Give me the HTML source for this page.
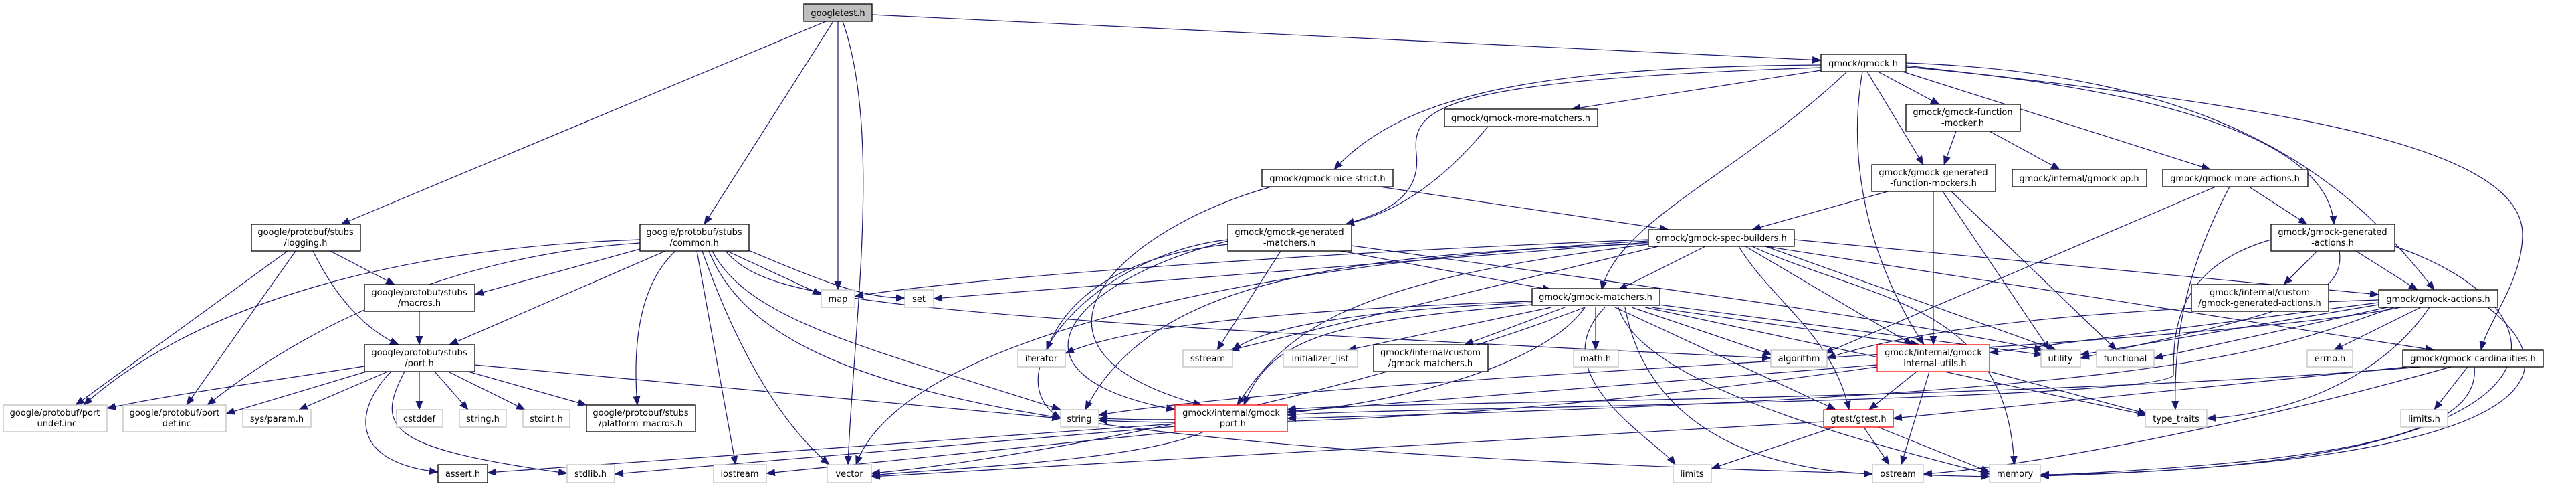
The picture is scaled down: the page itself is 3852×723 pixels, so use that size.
<!DOCTYPE html>
<html><head><meta charset="utf-8"><style>
html,body{margin:0;padding:0;background:#fff;}
svg{display:block;}
text{font-family:"DejaVu Sans","Liberation Sans",sans-serif;font-size:13px;fill:#000;text-anchor:middle;}
.e{fill:none;stroke:#191970;stroke-width:1.2;marker-end:url(#a);}
.b{fill:#fff;stroke:#000;stroke-width:1.3;}
.g{fill:#fff;stroke:#bfbfbf;stroke-width:1.3;}
.r{fill:#fff;stroke:#ff0000;stroke-width:1.3;}
</style></head><body>
<svg width="3852" height="723" viewBox="0 0 3852 723" xmlns="http://www.w3.org/2000/svg">
<defs><marker id="a" markerUnits="userSpaceOnUse" markerWidth="14" markerHeight="11" refX="13" refY="5.5" orient="auto"><path d="M0,0 L14,5.5 L0,11 z" fill="#191970"/></marker></defs>
<g>
<path class="e" d="M1235 32 L510 335"/>
<path class="e" d="M1246 32 L1053 335"/>
<path class="e" d="M1253 32 L1253 433"/>
<path class="e" d="M1260 32 C1320 200 1275 500 1268 694"/>
<path class="e" d="M1304 22 L2723 90"/>
<path class="e" d="M430 375 L113 605"/>
<path class="e" d="M442 375 L279 605"/>
<path class="e" d="M494 375 L590 425"/>
<path class="e" d="M468 375 Q520 480 596 515"/>
<path class="e" d="M957 358 C600 370 300 450 125 605"/>
<path class="e" d="M957 363 C700 380 480 470 310 605"/>
<path class="e" d="M957 372 L710 440"/>
<path class="e" d="M995 375 L672 515"/>
<path class="e" d="M1010 375 Q940 440 953 605"/>
<path class="e" d="M1042 375 L1100 694"/>
<path class="e" d="M1050 375 Q1130 600 1240 694"/>
<path class="e" d="M1087 375 L1228 440"/>
<path class="e" d="M1115 372 C1250 430 1300 445 1353 445"/>
<path class="e" d="M1065 375 C1120 480 1300 520 1586 612"/>
<path class="e" d="M1085 375 C1150 450 1300 470 2648 535"/>
<path class="e" d="M1060 375 C1150 600 1600 680 2975 712"/>
<path class="e" d="M627 465 L627 515"/>
<path class="e" d="M545 547 C400 570 250 590 160 610"/>
<path class="e" d="M548 555 L338 618"/>
<path class="e" d="M580 555 L447 612"/>
<path class="e" d="M627 555 L627 612"/>
<path class="e" d="M650 555 L700 612"/>
<path class="e" d="M670 555 L785 612"/>
<path class="e" d="M700 555 L877 605"/>
<path class="e" d="M585 555 C530 610 520 690 655 705"/>
<path class="e" d="M605 555 C560 640 580 670 848 707"/>
<path class="e" d="M710 545 L1586 625"/>
<path class="e" d="M2723 97 C2300 100 2100 140 1995 253"/>
<path class="e" d="M2723 101 C2150 120 2110 160 2118 230 S2060 320 2012 335"/>
<path class="e" d="M2723 105 L2350 163"/>
<path class="e" d="M2762 107 C2600 260 2420 330 2395 433"/>
<path class="e" d="M2808 107 L2900 156"/>
<path class="e" d="M2792 107 L2876 246"/>
<path class="e" d="M2785 107 C2760 250 2800 400 2877 515"/>
<path class="e" d="M2845 107 L3305 253"/>
<path class="e" d="M2850 100 C3200 130 3480 200 3490 335"/>
<path class="e" d="M2850 94 C3300 110 3500 250 3640 433"/>
<path class="e" d="M2850 98 C3300 150 3772 200 3772 350 C3772 420 3720 480 3710 523"/>
<path class="e" d="M2225 189 C2150 280 2080 320 2012 335"/>
<path class="e" d="M2063 279 L2495 343"/>
<path class="e" d="M1901 279 C1680 340 1480 520 1797 605"/>
<path class="e" d="M2005 375 L2320 433"/>
<path class="e" d="M1836 365 C1700 380 1600 430 1565 523"/>
<path class="e" d="M1915 375 L1820 523"/>
<path class="e" d="M1836 358 C1640 380 1480 560 1586 625"/>
<path class="e" d="M2021 367 C2400 420 2800 470 3055 523"/>
<path class="e" d="M1836 360 C1600 420 1480 560 1757 612"/>
<path class="e" d="M2550 368 L2420 433"/>
<path class="e" d="M2465 362 L1396 446"/>
<path class="e" d="M2465 358 C1900 380 1400 420 1278 443"/>
<path class="e" d="M2465 364 C2000 380 1720 420 1623 612"/>
<path class="e" d="M2465 360 C1900 390 1350 500 1280 694"/>
<path class="e" d="M2465 365 C2000 420 1920 500 1850 605"/>
<path class="e" d="M2480 368 L1840 523"/>
<path class="e" d="M2610 368 L2860 515"/>
<path class="e" d="M2600 368 C2650 450 2740 500 2765 612"/>
<path class="e" d="M2640 368 L3075 523"/>
<path class="e" d="M2620 368 C2800 450 3000 450 3012 694"/>
<path class="e" d="M2683 358 L3557 440"/>
<path class="e" d="M2640 368 L3640 523"/>
<path class="e" d="M2291 450 C2000 460 1700 480 1593 528"/>
<path class="e" d="M2291 452 C2100 460 1900 480 1843 523"/>
<path class="e" d="M2320 459 L2015 523"/>
<path class="e" d="M2340 459 L2190 515"/>
<path class="e" d="M2386 459 L2386 523"/>
<path class="e" d="M2370 459 C2300 560 2000 640 1643 625"/>
<path class="e" d="M2291 455 C2000 480 1900 500 1860 605"/>
<path class="e" d="M2400 459 C2300 560 2480 660 2505 694"/>
<path class="e" d="M2470 459 L2870 515"/>
<path class="e" d="M2440 459 L2650 530"/>
<path class="e" d="M2480 455 L3055 530"/>
<path class="e" d="M2460 459 L3210 620"/>
<path class="e" d="M2430 459 C2460 620 2600 700 2800 708"/>
<path class="e" d="M2420 459 C2450 560 2700 640 2975 708"/>
<path class="e" d="M2370 459 C2000 600 1500 690 1303 707"/>
<path class="e" d="M2415 459 L2745 612"/>
<path class="e" d="M2925 196 L2907 246"/>
<path class="e" d="M2975 196 L3080 253"/>
<path class="e" d="M2823 286 L2620 343"/>
<path class="e" d="M2891 286 L2891 515"/>
<path class="e" d="M2905 286 L3065 523"/>
<path class="e" d="M2918 286 L3165 523"/>
<path class="e" d="M3363 279 L3450 335"/>
<path class="e" d="M3313 279 L2728 528"/>
<path class="e" d="M3334 279 C3270 400 3250 500 3253 612"/>
<path class="e" d="M3465 375 L3415 425"/>
<path class="e" d="M3523 375 L3615 433"/>
<path class="e" d="M3581 368 C3850 460 3900 700 3051 709"/>
<path class="e" d="M3396 358 C3250 400 3250 500 3250 560 C3240 600 2000 610 1925 620"/>
<path class="e" d="M3498 375 C3510 450 3400 470 3111 535"/>
<path class="e" d="M3557 448 C3200 460 2900 480 2732 535"/>
<path class="e" d="M3557 452 L2975 527"/>
<path class="e" d="M3557 455 L3111 530"/>
<path class="e" d="M3570 459 L3221 535"/>
<path class="e" d="M3620 459 L3490 523"/>
<path class="e" d="M3580 459 C3400 520 3300 590 1925 625"/>
<path class="e" d="M3633 459 C3550 580 3400 620 3300 625"/>
<path class="e" d="M3720 459 C3850 560 3800 690 3051 711"/>
<path class="e" d="M3590 459 C3300 520 2000 560 1643 620"/>
<path class="e" d="M3600 548 L2831 625"/>
<path class="e" d="M3690 548 L3640 612"/>
<path class="e" d="M3700 548 C3710 650 3500 690 3051 710"/>
<path class="e" d="M3665 548 C3300 650 3000 700 2876 708"/>
<path class="e" d="M3620 548 C3000 600 2000 600 1925 612"/>
<path class="e" d="M2866 555 L2795 612"/>
<path class="e" d="M2885 555 L2843 694"/>
<path class="e" d="M2975 555 L3210 618"/>
<path class="e" d="M2807 545 L1925 615"/>
<path class="e" d="M2807 548 C2300 620 1900 640 1643 628"/>
<path class="e" d="M2787 638 L2825 694"/>
<path class="e" d="M2808 638 L2975 705"/>
<path class="e" d="M2743 638 L2559 700"/>
<path class="e" d="M2727 630 L1303 712"/>
<path class="e" d="M1757 633 L729 706"/>
<path class="e" d="M1757 637 L919 708"/>
<path class="e" d="M1760 645 L1146 707"/>
<path class="e" d="M1800 645 C1700 690 1400 700 1303 710"/>
</g>
<g>
<rect x="1202" y="6" width="102" height="26" fill="#bfbfbf" stroke="#000" stroke-width="1.3"/><text x="1253" y="24">googletest.h</text>
<rect class="b" x="376" y="335" width="163" height="40"/><text x="457" y="351">google/protobuf/stubs</text><text x="457" y="367">/logging.h</text>
<rect class="b" x="957" y="335" width="163" height="40"/><text x="1038" y="351">google/protobuf/stubs</text><text x="1038" y="367">/common.h</text>
<rect class="b" x="545" y="425" width="165" height="40"/><text x="627" y="441">google/protobuf/stubs</text><text x="627" y="457">/macros.h</text>
<rect class="b" x="545" y="515" width="165" height="40"/><text x="627" y="531">google/protobuf/stubs</text><text x="627" y="547">/port.h</text>
<rect class="g" x="1228" y="433" width="50" height="26"/><text x="1253" y="451">map</text>
<rect class="g" x="5" y="605" width="155" height="40"/><text x="82" y="621">google/protobuf/port</text><text x="82" y="637">_undef.inc</text>
<rect class="g" x="184" y="605" width="154" height="40"/><text x="261" y="621">google/protobuf/port</text><text x="261" y="637">_def.inc</text>
<rect class="g" x="363" y="612" width="102" height="26"/><text x="414" y="630">sys/param.h</text>
<rect class="g" x="593" y="612" width="69" height="26"/><text x="627" y="630">cstddef</text>
<rect class="g" x="687" y="612" width="70" height="26"/><text x="722" y="630">string.h</text>
<rect class="g" x="782" y="612" width="70" height="26"/><text x="817" y="630">stdint.h</text>
<rect class="b" x="877" y="605" width="163" height="40"/><text x="958" y="621">google/protobuf/stubs</text><text x="958" y="637">/platform_macros.h</text>
<rect class="b" x="655" y="694" width="74" height="27"/><text x="692" y="712">assert.h</text>
<rect class="g" x="848" y="694" width="71" height="27"/><text x="883" y="712">stdlib.h</text>
<rect class="g" x="1067" y="694" width="79" height="27"/><text x="1106" y="712">iostream</text>
<rect class="g" x="1237" y="694" width="66" height="27"/><text x="1270" y="712">vector</text>
<rect class="b" x="2160" y="163" width="229" height="26"/><text x="2274" y="181">gmock/gmock-more-matchers.h</text>
<rect class="b" x="1887" y="253" width="196" height="26"/><text x="1985" y="271">gmock/gmock-nice-strict.h</text>
<rect class="b" x="1836" y="335" width="185" height="40"/><text x="1928" y="351">gmock/gmock-generated</text><text x="1928" y="367">-matchers.h</text>
<rect class="b" x="2465" y="343" width="218" height="25"/><text x="2574" y="360">gmock/gmock-spec-builders.h</text>
<rect class="g" x="1353" y="433" width="43" height="26"/><text x="1374" y="451">set</text>
<rect class="b" x="2291" y="431" width="191" height="25"/><text x="2386" y="448">gmock/gmock-matchers.h</text>
<rect class="g" x="1522" y="523" width="71" height="25"/><text x="1557" y="540">iterator</text>
<rect class="g" x="1769" y="523" width="74" height="25"/><text x="1806" y="540">sstream</text>
<rect class="g" x="1919" y="523" width="111" height="25"/><text x="1974" y="540">initializer_list</text>
<rect class="b" x="2054" y="515" width="171" height="40"/><text x="2139" y="531">gmock/internal/custom</text><text x="2139" y="547">/gmock-matchers.h</text>
<rect class="g" x="2353" y="523" width="67" height="25"/><text x="2386" y="540">math.h</text>
<rect class="g" x="1586" y="612" width="57" height="26"/><text x="1614" y="630">string</text>
<rect class="r" x="1757" y="605" width="168" height="40"/><text x="1841" y="621">gmock/internal/gmock</text><text x="1841" y="637">-port.h</text>
<rect class="g" x="2502" y="694" width="57" height="27"/><text x="2530" y="712">limits</text>
<rect class="b" x="2723" y="81" width="127" height="26"/><text x="2786" y="99">gmock/gmock.h</text>
<rect class="b" x="2850" y="156" width="171" height="40"/><text x="2935" y="172">gmock/gmock-function</text><text x="2935" y="188">-mocker.h</text>
<rect class="b" x="2799" y="246" width="185" height="40"/><text x="2891" y="262">gmock/gmock-generated</text><text x="2891" y="278">-function-mockers.h</text>
<rect class="b" x="3009" y="253" width="201" height="26"/><text x="3109" y="271">gmock/internal/gmock-pp.h</text>
<rect class="b" x="3234" y="253" width="217" height="26"/><text x="3342" y="271">gmock/gmock-more-actions.h</text>
<rect class="b" x="3396" y="335" width="185" height="40"/><text x="3488" y="351">gmock/gmock-generated</text><text x="3488" y="367">-actions.h</text>
<rect class="b" x="3277" y="425" width="205" height="40"/><text x="3379" y="441">gmock/internal/custom</text><text x="3379" y="457">/gmock-generated-actions.h</text>
<rect class="b" x="3557" y="433" width="178" height="26"/><text x="3646" y="451">gmock/gmock-actions.h</text>
<rect class="g" x="2648" y="523" width="84" height="25"/><text x="2690" y="540">algorithm</text>
<rect class="r" x="2807" y="515" width="168" height="40"/><text x="2891" y="531">gmock/internal/gmock</text><text x="2891" y="547">-internal-utils.h</text>
<rect class="g" x="3052" y="523" width="59" height="25"/><text x="3081" y="540">utility</text>
<rect class="g" x="3135" y="523" width="86" height="25"/><text x="3178" y="540">functional</text>
<rect class="g" x="3450" y="523" width="68" height="25"/><text x="3484" y="540">errno.h</text>
<rect class="b" x="3593" y="523" width="210" height="25"/><text x="3698" y="540">gmock/gmock-cardinalities.h</text>
<rect class="r" x="2727" y="612" width="104" height="26"/><text x="2779" y="630">gtest/gtest.h</text>
<rect class="g" x="3208" y="612" width="92" height="26"/><text x="3254" y="630">type_traits</text>
<rect class="g" x="3590" y="612" width="70" height="26"/><text x="3625" y="630">limits.h</text>
<rect class="g" x="2800" y="694" width="76" height="27"/><text x="2838" y="712">ostream</text>
<rect class="g" x="2975" y="694" width="76" height="27"/><text x="3013" y="712">memory</text>
</g>
</svg>
</body></html>
